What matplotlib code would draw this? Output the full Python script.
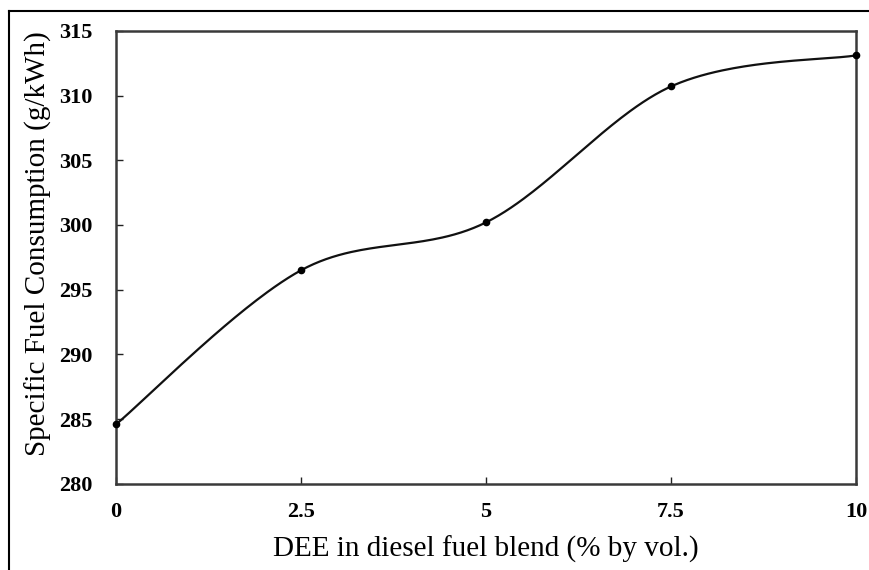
import matplotlib
matplotlib.use("Agg")
import matplotlib.pyplot as plt
from matplotlib.lines import Line2D
import numpy as np

dee_pct = [0, 2.5, 5, 7.5, 10]
sfc = [284.6, 296.5, 300.2, 310.7, 313.1]
x_ticks = [0, 2.5, 5, 7.5, 10]
x_tick_labels = ["0", "2.5", "5", "7.5", "10"]
y_ticks = [280, 285, 290, 295, 300, 305, 310, 315]

plt.rcParams["font.family"] = ["Liberation Serif", "DejaVu Serif"]

XLIM = (0, 10)
YLIM = (280, 315)


def smooth_curve(x, y, n=60):
    # Bezier smoothing through the points (same idea as spreadsheet "smoothed line"),
    # done in normalised axis space so the bend looks right on screen
    px = (np.asarray(x, float) - XLIM[0]) / (XLIM[1] - XLIM[0])
    py = (np.asarray(y, float) - YLIM[0]) / (YLIM[1] - YLIM[0]) * 0.61
    pts = np.column_stack([px, py])
    ext = np.vstack([pts[0], pts, pts[-1]])
    out = []
    t = np.linspace(0, 1, n)[:, None]
    for i in range(len(pts) - 1):
        p0, p3 = ext[i + 1], ext[i + 2]
        c1 = p0 + (ext[i + 2] - ext[i]) / 6.0
        c2 = p3 - (ext[i + 3] - ext[i + 1]) / 6.0
        seg = ((1 - t) ** 3) * p0 + 3 * ((1 - t) ** 2) * t * c1 + 3 * (1 - t) * t ** 2 * c2 + t ** 3 * p3
        out.append(seg if i == 0 else seg[1:])
    out = np.vstack(out)
    sx = out[:, 0] * (XLIM[1] - XLIM[0]) + XLIM[0]
    sy = out[:, 1] / 0.61 * (YLIM[1] - YLIM[0]) + YLIM[0]
    return sx, sy


fig = plt.figure(figsize=(8.69, 5.70), dpi=100)
ax = fig.add_axes([0.1335, 0.151, 0.8515, 0.795])

sx, sy = smooth_curve(dee_pct, sfc)
ax.plot(sx, sy, color="#111111", linewidth=1.6, clip_on=False, zorder=3)
ax.plot(dee_pct, sfc, linestyle="none", marker="o", markersize=4.5,
        color="black", clip_on=False, zorder=4)

ax.set_xlim(*XLIM)
ax.set_ylim(*YLIM)
ax.set_xticks(x_ticks)
ax.set_xticklabels(x_tick_labels)
ax.set_yticks(y_ticks)

for side in ["left", "right", "top", "bottom"]:
    ax.spines[side].set_color("#3a3a3a")
    ax.spines[side].set_linewidth(1.8)

ax.tick_params(direction="in", length=5, width=1.0, color="#222222",
               labelsize=16, pad=13)
ax.tick_params(axis="y", pad=17)
for lbl in ax.get_xticklabels() + ax.get_yticklabels():
    lbl.set_fontweight("bold")

ax.set_xlabel("DEE in diesel fuel blend (% by vol.)", fontsize=21)
ax.set_ylabel("Specific Fuel Consumption (g/kWh)", fontsize=21)
ax.xaxis.set_label_coords(0.5, -0.115)
ax.yaxis.set_label_coords(-0.086, 0.53)

# thin frame along the top and left edge
fig.add_artist(Line2D([9 / 869, 9 / 869], [0, 1 - 11 / 570], transform=fig.transFigure,
                      color="black", linewidth=1.5))
fig.add_artist(Line2D([9 / 869, 1], [1 - 11 / 570, 1 - 11 / 570], transform=fig.transFigure,
                      color="black", linewidth=1.5))

fig.savefig("out.png", dpi=100)
plt.close(fig)
